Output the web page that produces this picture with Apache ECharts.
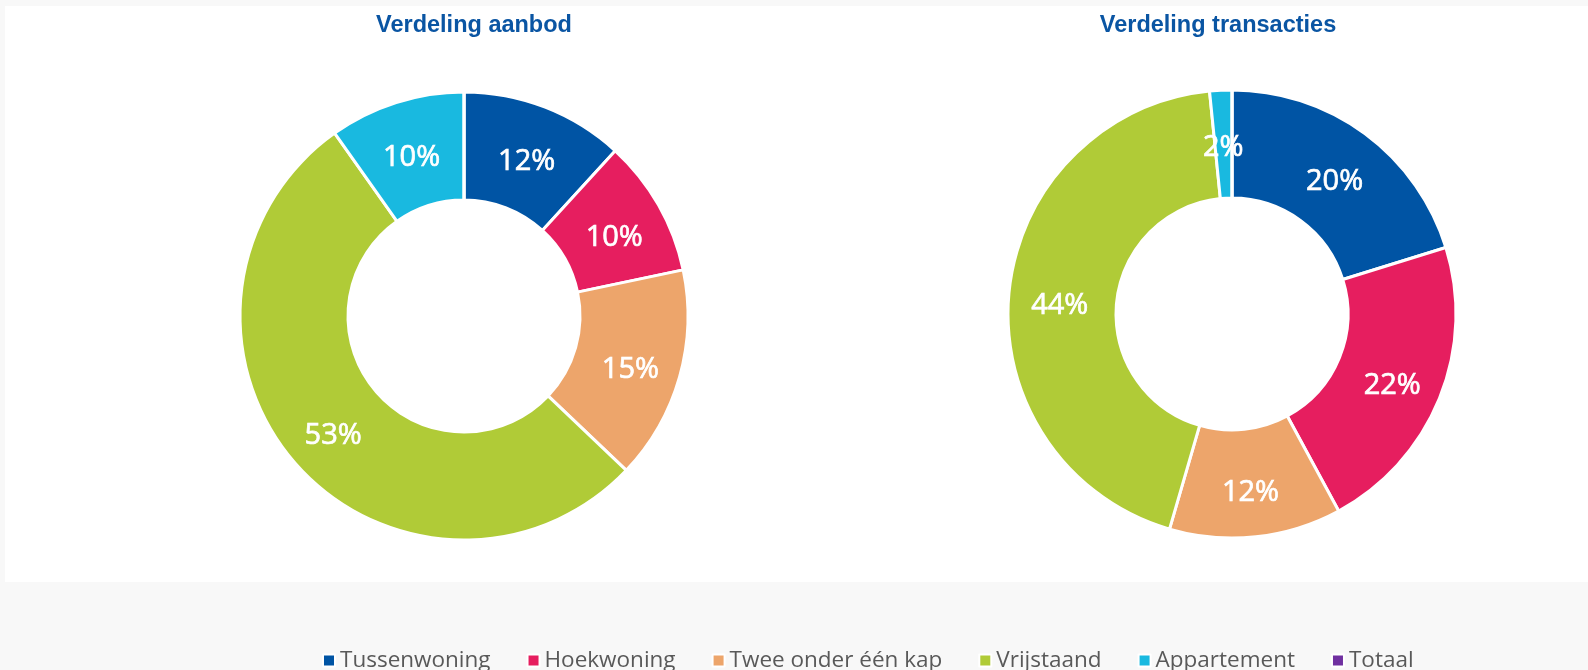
<!DOCTYPE html>
<html>
<head>
<meta charset="utf-8">
<script src="https://cdn.jsdelivr.net/npm/echarts@6/dist/echarts.min.js"></script>
<style>
  html, body { margin: 0; padding: 0; background: #f8f8f8; }
  #chart { width: 1588px; height: 670px; }
</style>
</head>
<body>
<div id="chart"></div>
<script>
// woningtypes (Totaal staat alleen in de legenda)
var categories = ["Tussenwoning", "Hoekwoning", "Twee onder één kap", "Vrijstaand", "Appartement", "Totaal"];
var colors = ["#0054a4", "#e61e5f", "#eda56b", "#b0cb37", "#19b9e0", "#7030a0"];
// aandelen in procenten
var aanbod = [11.8, 9.9, 15.4, 53.1, 9.8, 0];
var transacties = [20.2, 21.9, 12.4, 43.9, 1.6, 0];

function pieData(values) {
  return categories.map(function (name, i) {
    var item = { name: name, value: values[i] };
    if (!values[i]) item.label = { show: false };
    return item;
  });
}

var chart = echarts.init(document.getElementById("chart"));

var pieCommon = {
  type: "pie",
  radius: [116, 224],
  startAngle: 90,
  clockwise: true,
  itemStyle: { borderColor: "#ffffff", borderWidth: 3 },
  label: {
    show: true,
    position: "inside",
    color: "#ffffff",
    fontFamily: "Open Sans",
    fontSize: 29,
    textBorderColor: "#ffffff",
    textBorderWidth: 0.7,
    formatter: function (p) {
      return p.value ? Math.round(p.percent) + "%" : "";
    }
  },
  // labels staan iets lager dan het midden van de ring
  labelLayout: { dy: 7 },
  labelLine: { show: false },
  emphasis: { disabled: true },
  animation: false
};

var titleStyle = { color: "#0a55a3", fontFamily: "Liberation Sans", fontWeight: "bold", fontSize: 23.5 };

chart.setOption({
  color: colors,
  backgroundColor: "transparent",
  graphic: [
    {
      type: "rect",
      z: -10,
      shape: { x: 5, y: 6, width: 1583, height: 576 },
      style: { fill: "#ffffff" }
    }
  ],
  title: [
    { text: "Verdeling aanbod", left: 474, top: 14, padding: 0, textAlign: "center", textStyle: titleStyle },
    { text: "Verdeling transacties", left: 1218, top: 14, padding: 0, textAlign: "center", textStyle: titleStyle }
  ],
  legend: {
    data: categories,
    left: 322,
    top: 649,
    padding: 0,
    orient: "horizontal",
    icon: "rect",
    itemWidth: 12,
    itemHeight: 12,
    itemGap: 36,
    selectedMode: false,
    textStyle: { color: "#595959", fontFamily: "Open Sans", fontSize: 22.5 }
  },
  series: [
    Object.assign({}, pieCommon, {
      name: "Verdeling aanbod",
      center: [464, 316],
      data: pieData(aanbod)
    }),
    Object.assign({}, pieCommon, {
      name: "Verdeling transacties",
      center: [1232, 314],
      data: pieData(transacties)
    })
  ]
});
</script>
</body>
</html>
